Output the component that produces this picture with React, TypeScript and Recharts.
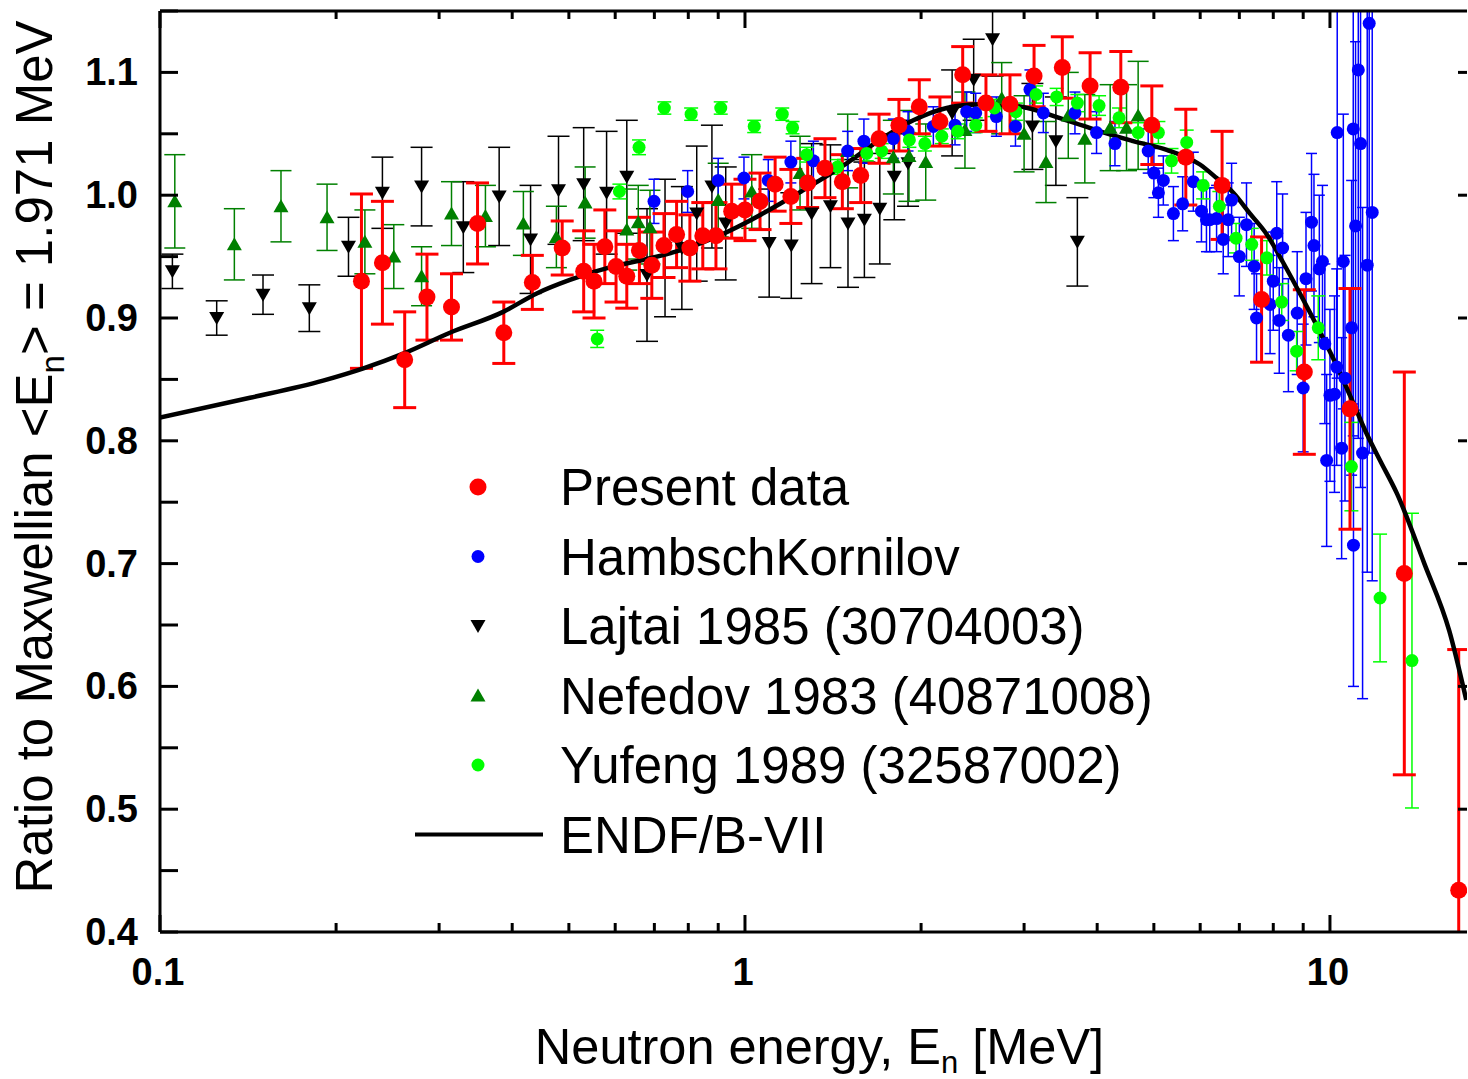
import React from "react";
import {
  ComposedChart,
  Scatter,
  Line,
  XAxis,
  YAxis,
  ErrorBar,
  Legend,
  Label,
} from "recharts";

const FONT = '"Liberation Sans", Arial, Helvetica, sans-serif';

// [energy (MeV), ratio, error]
const presentData = [
  [0.221, 0.93, 0.071], [0.24, 0.945, 0.05], [0.262, 0.866, 0.039],
  [0.286, 0.917, 0.035], [0.315, 0.909, 0.027], [0.349, 0.977, 0.033],
  [0.387, 0.888, 0.025], [0.433, 0.929, 0.022], [0.487, 0.957, 0.022],
  [0.53, 0.938, 0.033], [0.552, 0.93, 0.03], [0.576, 0.958, 0.03],
  [0.602, 0.942, 0.029], [0.628, 0.934, 0.026], [0.66, 0.955, 0.027],
  [0.693, 0.943, 0.027], [0.727, 0.959, 0.026], [0.764, 0.968, 0.027],
  [0.805, 0.957, 0.027], [0.847, 0.967, 0.027], [0.892, 0.967, 0.027],
  [0.949, 0.987, 0.022], [1.0, 0.988, 0.025], [1.061, 0.995, 0.023],
  [1.126, 1.009, 0.022], [1.198, 0.999, 0.022], [1.28, 1.01, 0.02],
  [1.37, 1.022, 0.024], [1.467, 1.011, 0.022], [1.577, 1.016, 0.022],
  [1.695, 1.046, 0.02], [1.833, 1.057, 0.021], [1.986, 1.072, 0.022],
  [2.154, 1.06, 0.02], [2.356, 1.098, 0.023], [2.582, 1.075, 0.023],
  [2.838, 1.074, 0.024], [3.12, 1.097, 0.025], [3.487, 1.104, 0.025],
  [3.89, 1.089, 0.027], [4.39, 1.088, 0.029], [4.96, 1.057, 0.032],
  [5.67, 1.031, 0.039], [6.54, 1.008, 0.044], [7.64, 0.915, 0.051],
  [9.04, 0.856, 0.067], [10.82, 0.826, 0.098], [13.4, 0.692, 0.164],
  [16.6, 0.434, 0.196],
];

const hambschData = [
  [0.699, 0.995, 0.018], [0.798, 1.003, 0.017], [0.9, 1.012, 0.018],
  [0.996, 1.014, 0.017], [1.096, 1.012, 0.017], [1.198, 1.027, 0.017],
  [1.309, 1.028, 0.016], [1.498, 1.036, 0.016], [1.597, 1.044, 0.018],
  [1.793, 1.046, 0.016], [1.9, 1.052, 0.016], [2.099, 1.056, 0.016],
  [2.286, 1.057, 0.016], [2.393, 1.068, 0.016], [2.48, 1.067, 0.016],
  [2.69, 1.064, 0.016], [2.9, 1.056, 0.016], [3.07, 1.086, 0.016],
  [3.236, 1.067, 0.016], [3.665, 1.067, 0.017], [3.99, 1.051, 0.017],
  [4.29, 1.042, 0.018], [4.89, 1.036, 0.018], [5.0, 1.018, 0.02],
  [5.09, 1.002, 0.02], [5.19, 1.012, 0.02], [5.4, 0.985, 0.022],
  [5.6, 0.993, 0.022], [5.84, 1.011, 0.024], [6.03, 0.987, 0.025],
  [6.15, 0.98, 0.026], [6.23, 0.98, 0.026], [6.4, 0.981, 0.027],
  [6.57, 0.964, 0.028], [6.7, 0.98, 0.03], [6.79, 0.996, 0.03],
  [7.0, 0.95, 0.032], [7.2, 0.976, 0.034], [7.42, 0.942, 0.035],
  [7.49, 0.9, 0.036], [7.9, 0.911, 0.04], [8.0, 0.93, 0.04],
  [8.11, 0.969, 0.042], [8.19, 0.898, 0.043], [8.3, 0.957, 0.044],
  [8.49, 0.886, 0.046], [8.79, 0.904, 0.05], [9.0, 0.843, 0.052],
  [9.1, 0.932, 0.054], [9.3, 0.978, 0.056], [9.39, 0.959, 0.058],
  [9.59, 0.94, 0.06], [9.71, 0.946, 0.062], [9.8, 0.879, 0.065],
  [9.87, 0.784, 0.07], [10.0, 0.837, 0.07], [10.18, 0.838, 0.08],
  [10.27, 0.86, 0.08], [10.29, 1.051, 0.2], [10.47, 0.794, 0.09],
  [10.54, 0.946, 0.12], [10.61, 0.851, 0.1], [10.89, 0.892, 0.12],
  [10.96, 1.054, 0.25], [10.97, 0.715, 0.115], [11.06, 0.975, 0.15],
  [11.18, 1.102, 0.3], [11.28, 1.042, 0.28], [11.37, 0.79, 0.2],
  [11.58, 0.943, 0.25], [11.67, 1.14, 0.35], [11.81, 0.986, 0.3],
];

const lajtaiData = [
  [0.105, 0.938, 0.014], [0.125, 0.9, 0.014], [0.15, 0.919, 0.016],
  [0.18, 0.908, 0.019], [0.21, 0.958, 0.024], [0.24, 1.002, 0.029],
  [0.28, 1.007, 0.032], [0.33, 0.974, 0.037], [0.38, 0.999, 0.04],
  [0.43, 0.964, 0.044], [0.48, 1.004, 0.044], [0.53, 1.009, 0.046],
  [0.58, 1.002, 0.05], [0.628, 1.015, 0.046], [0.68, 0.935, 0.054],
  [0.73, 0.957, 0.056], [0.78, 0.957, 0.05], [0.827, 0.985, 0.055],
  [0.878, 1.007, 0.05], [0.927, 0.977, 0.046], [1.1, 0.961, 0.044],
  [1.2, 0.959, 0.043], [1.3, 0.985, 0.057], [1.4, 0.991, 0.05],
  [1.5, 0.977, 0.052], [1.6, 0.98, 0.047], [1.7, 0.989, 0.045],
  [1.8, 1.015, 0.035], [1.9, 1.026, 0.035], [2.26, 1.067, 0.035],
  [2.46, 1.094, 0.033], [2.65, 1.127, 0.03], [3.1, 1.056, 0.035],
  [3.4, 1.044, 0.036], [3.7, 0.962, 0.036],
];

const nefedovData = [
  [0.106, 0.995, 0.038], [0.134, 0.96, 0.029], [0.161, 0.991, 0.029],
  [0.193, 0.982, 0.027], [0.224, 0.962, 0.026], [0.251, 0.95, 0.026],
  [0.28, 0.934, 0.024], [0.315, 0.985, 0.026], [0.36, 0.983, 0.025],
  [0.418, 0.977, 0.026], [0.476, 0.966, 0.025], [0.533, 0.994, 0.029],
  [0.628, 0.972, 0.033], [0.657, 0.978, 0.03], [0.688, 0.974, 0.03],
  [0.9, 0.996, 0.03], [1.027, 1.003, 0.03], [1.242, 1.018, 0.03],
  [1.498, 1.036, 0.03], [1.793, 1.031, 0.03], [1.907, 1.032, 0.037],
  [2.037, 1.027, 0.031], [2.377, 1.053, 0.031], [2.747, 1.079, 0.029],
  [3.0, 1.05, 0.031], [3.27, 1.027, 0.033], [3.57, 1.065, 0.035],
  [3.81, 1.046, 0.036], [4.21, 1.055, 0.035], [4.49, 1.055, 0.035],
  [4.7, 1.065, 0.044],
];

const yufengData = [
  [0.559, 0.883, 0.007], [0.61, 1.003, 0.006], [0.659, 1.039, 0.006],
  [0.728, 1.071, 0.005], [0.809, 1.066, 0.005], [0.909, 1.071, 0.005],
  [1.037, 1.056, 0.005], [1.158, 1.066, 0.005], [1.206, 1.055, 0.005],
  [1.275, 1.033, 0.006], [1.44, 1.023, 0.006], [1.615, 1.034, 0.006],
  [1.713, 1.036, 0.006], [1.91, 1.045, 0.006], [2.03, 1.042, 0.006],
  [2.17, 1.048, 0.006], [2.31, 1.052, 0.006], [2.48, 1.057, 0.006],
  [2.67, 1.071, 0.007], [2.905, 1.068, 0.007], [3.145, 1.082, 0.007],
  [3.41, 1.08, 0.007], [3.7, 1.075, 0.007], [4.03, 1.073, 0.008],
  [4.36, 1.063, 0.008], [4.7, 1.051, 0.008], [5.09, 1.051, 0.009],
  [5.36, 1.028, 0.01], [5.69, 1.043, 0.01], [6.07, 1.008, 0.011],
  [6.47, 0.991, 0.012], [6.91, 0.965, 0.012], [7.35, 0.96, 0.013],
  [7.8, 0.949, 0.014], [8.27, 0.913, 0.015], [8.77, 0.873, 0.016],
  [9.55, 0.892, 0.026], [10.88, 0.779, 0.036], [12.18, 0.672, 0.052],
  [13.81, 0.621, 0.12],
];

// ENDF/B-VII ratio curve [energy, ratio]
const endfCurve = [
  [0.1, 0.819], [0.1425, 0.835], [0.19, 0.849], [0.2227, 0.859],
  [0.2605, 0.871], [0.313, 0.888], [0.386, 0.905], [0.4405, 0.92],
  [0.502, 0.931], [0.5955, 0.942], [0.679, 0.948], [0.7743, 0.955],
  [0.883, 0.965], [1.007, 0.978], [1.148, 0.993], [1.309, 1.009],
  [1.492, 1.026], [1.7, 1.045], [1.94, 1.061], [2.212, 1.071],
  [2.52, 1.074], [2.875, 1.073], [3.547, 1.061], [4.045, 1.052],
  [4.61, 1.044], [5.26, 1.037], [5.995, 1.025], [6.4, 1.014],
  [6.835, 1.002], [7.3, 0.985], [7.8, 0.968], [8.32, 0.945],
  [8.885, 0.92], [9.49, 0.894], [10.13, 0.867], [10.82, 0.837],
  [11.55, 0.806], [12.18, 0.784], [13.02, 0.757], [14.5, 0.7],
  [16.0, 0.645], [17.1, 0.589],
];

const xMajorTicks = [0.1, 1, 10];
const xAllTicks = [
  0.1, 0.2, 0.3, 0.4, 0.5, 0.6, 0.7, 0.8, 0.9,
  1, 2, 3, 4, 5, 6, 7, 8, 9, 10,
];
const yAllTicks = [
  0.4, 0.45, 0.5, 0.55, 0.6, 0.65, 0.7, 0.75, 0.8, 0.85, 0.9, 0.95, 1.0,
  1.05, 1.1, 1.15,
];
const yLabelTicks = [0.4, 0.5, 0.6, 0.7, 0.8, 0.9, 1.0, 1.1];
const yRightTicks = [0.5, 0.6, 0.7, 0.8, 0.9, 1.0, 1.1];

const toPts = (rows: number[][]) => rows.map(([x, y, err]) => ({ x, y, err }));
const toLine = (rows: number[][]) => rows.map(([x, y]) => ({ x, y }));

const RED = "#ff0000";
const BLUE = "#0000ff";
const DKGREEN = "#008000";
const LTGREEN = "#00ff00";

const dot = (r: number, fill: string) => (p: any) =>
  <circle cx={p.cx} cy={p.cy} r={r} fill={fill} />;

const triUp = (fill: string) => (p: any) => (
  <polygon
    points={`${p.cx},${p.cy - 7} ${p.cx - 7.5},${p.cy + 6} ${p.cx + 7.5},${p.cy + 6}`}
    fill={fill}
  />
);
const triDown = (fill: string) => (p: any) => (
  <polygon
    points={`${p.cx - 7.5},${p.cy - 6} ${p.cx + 7.5},${p.cy - 6} ${p.cx},${p.cy + 7}`}
    fill={fill}
  />
);

const BottomTick = (p: any) => {
  const v = p.payload.value;
  const major = xMajorTicks.includes(v);
  return (
    <g>
      <line x1={p.x} x2={p.x} y1={p.y} y2={p.y - (major ? 17 : 9)} stroke="#000" strokeWidth={3} />
      {major && (
        <text x={p.x - 2} y={p.y + 53} textAnchor="middle" fontFamily={FONT} fontWeight="bold" fontSize={38} fill="#000">
          {String(v)}
        </text>
      )}
    </g>
  );
};

const TopTick = (p: any) => {
  const major = xMajorTicks.includes(p.payload.value);
  return <line x1={p.x} x2={p.x} y1={p.y} y2={p.y + (major ? 17 : 8)} stroke="#000" strokeWidth={3} />;
};

const LeftTick = (p: any) => {
  const v = p.payload.value;
  const lab = yLabelTicks.includes(v);
  return (
    <g>
      <line x1={p.x} x2={p.x + 18} y1={p.y} y2={p.y} stroke="#000" strokeWidth={3} />
      {lab && (
        <text x={p.x - 22} y={p.y + 13} textAnchor="end" fontFamily={FONT} fontWeight="bold" fontSize={38} fill="#000">
          {v.toFixed(1)}
        </text>
      )}
    </g>
  );
};

const RightTick = (p: any) =>
  <line x1={p.x} x2={p.x - 9} y1={p.y} y2={p.y} stroke="#000" strokeWidth={3} />;

const XTitle = (props: any) => {
  const vb = props.viewBox;
  return (
    <text x={vb.x + vb.width / 2 + 6} y={vb.y + 132} textAnchor="middle" fontFamily={FONT} fontSize={50.5} fill="#000">
      Neutron energy, E<tspan dy={9} fontSize={31}>n</tspan>
      <tspan dy={-9}> [MeV]</tspan>
    </text>
  );
};

const YTitle = () => {
  const cx = 52;
  const cy = 457;
  return (
    <text x={cx} y={cy} transform={`rotate(-90, ${cx}, ${cy})`} textAnchor="middle" fontFamily={FONT} fontSize={51} fill="#000">
      Ratio to Maxwellian &lt;E<tspan dy={12} fontSize={33}>n</tspan>
      <tspan dy={-12}>&gt; = 1.971 MeV</tspan>
    </text>
  );
};

const legendRows = [
  { name: "Present data", kind: "red" },
  { name: "HambschKornilov", kind: "blue" },
  { name: "Lajtai 1985 (30704003)", kind: "down" },
  { name: "Nefedov 1983 (40871008)", kind: "up" },
  { name: "Yufeng 1989 (32587002)", kind: "lt" },
  { name: "ENDF/B-VII", kind: "line" },
];

const LegendBox = () => {
  const mx = 78;
  return (
    <svg width={800} height={430}>
      {legendRows.map((r, i) => {
        const cy = 37 + i * 69.5;
        let m = null;
        if (r.kind === "red") m = <circle cx={mx} cy={cy} r={8.5} fill={RED} />;
        if (r.kind === "blue") m = <circle cx={mx} cy={cy} r={6.5} fill={BLUE} />;
        if (r.kind === "lt") m = <circle cx={mx} cy={cy} r={6.5} fill={LTGREEN} />;
        if (r.kind === "down") m = triDown("#000")({ cx: mx, cy });
        if (r.kind === "up") m = triUp(DKGREEN)({ cx: mx, cy });
        if (r.kind === "line") m = <line x1={15} x2={143} y1={cy} y2={cy} stroke="#000" strokeWidth={4} />;
        return (
          <g key={r.name}>
            {m}
            <text x={160} y={cy + 18} fontFamily={FONT} fontSize={51} fill="#000">{r.name}</text>
          </g>
        );
      })}
    </svg>
  );
};

export default function App() {
  const xDomain = [0.1, 17.15];
  const yDomain = [0.4, 1.15];
  return (
    <div style={{ position: "absolute", left: 0, top: 0, width: 1468, height: 1079, overflow: "hidden", background: "#fff" }}>
      <style>{`.recharts-errorBars { clip-path: url(#plotAreaClip); }`}</style>
      <svg width={0} height={0} style={{ position: "absolute" }}>
        <defs>
          <clipPath id="plotAreaClip" clipPathUnits="userSpaceOnUse">
            <rect x={160} y={11} width={1307} height={921} />
          </clipPath>
        </defs>
      </svg>
      <ComposedChart width={1468} height={1079} margin={{ top: 10, right: 0, bottom: 87, left: 0 }}>
        <XAxis
          xAxisId="b" dataKey="x" type="number" scale="log" domain={xDomain} allowDataOverflow
          ticks={xAllTicks} interval={0} height={60} tickSize={0} tickMargin={0}
          tick={(p: any) => <BottomTick {...p} />} tickLine={false}
          axisLine={{ stroke: "#000", strokeWidth: 3 }}
        >
          <Label content={XTitle} />
        </XAxis>
        <XAxis
          xAxisId="t" orientation="top" dataKey="x" type="number" scale="log" domain={xDomain} allowDataOverflow
          ticks={xAllTicks} interval={0} height={1} tickSize={0} tickMargin={0}
          tick={(p: any) => <TopTick {...p} />} tickLine={false}
          axisLine={{ stroke: "#000", strokeWidth: 3 }}
        />
        <YAxis
          yAxisId="l" dataKey="y" type="number" domain={yDomain} allowDataOverflow
          ticks={yAllTicks} interval={0} width={160} tickSize={0} tickMargin={0}
          tick={(p: any) => <LeftTick {...p} />} tickLine={false}
          axisLine={{ stroke: "#000", strokeWidth: 3 }}
        >
          <Label content={YTitle} />
        </YAxis>
        <YAxis
          yAxisId="r" orientation="right" type="number" domain={yDomain} allowDataOverflow
          ticks={yRightTicks} interval={0} width={1} tickSize={0} tickMargin={0}
          tick={(p: any) => <RightTick {...p} />} tickLine={false} axisLine={false}
        />

        <Scatter name="Lajtai 1985 (30704003)" data={toPts(lajtaiData)} xAxisId="b" yAxisId="l"
          shape={triDown("#000")} isAnimationActive={false}>
          <ErrorBar dataKey="err" direction="y" width={11} stroke="#000" strokeWidth={1.5} />
        </Scatter>
        <Scatter name="Nefedov 1983 (40871008)" data={toPts(nefedovData)} xAxisId="b" yAxisId="l"
          shape={triUp(DKGREEN)} isAnimationActive={false}>
          <ErrorBar dataKey="err" direction="y" width={10.5} stroke={DKGREEN} strokeWidth={1.5} />
        </Scatter>
        <Scatter name="HambschKornilov" data={toPts(hambschData)} xAxisId="b" yAxisId="l"
          shape={dot(6.5, BLUE)} isAnimationActive={false}>
          <ErrorBar dataKey="err" direction="y" width={5.5} stroke={BLUE} strokeWidth={1.5} />
        </Scatter>
        <Scatter name="Yufeng 1989 (32587002)" data={toPts(yufengData)} xAxisId="b" yAxisId="l"
          shape={dot(6.5, LTGREEN)} isAnimationActive={false}>
          <ErrorBar dataKey="err" direction="y" width={7} stroke={LTGREEN} strokeWidth={1.5} />
        </Scatter>
        <Scatter name="Present data" data={toPts(presentData)} xAxisId="b" yAxisId="l"
          shape={dot(8.5, RED)} isAnimationActive={false}>
          <ErrorBar dataKey="err" direction="y" width={11.5} stroke={RED} strokeWidth={3} />
        </Scatter>
        <Line name="ENDF/B-VII" data={toLine(endfCurve)} dataKey="y" xAxisId="b" yAxisId="l"
          type="monotone" stroke="#000" strokeWidth={4.5} dot={false} isAnimationActive={false} />

        <Legend
          layout="vertical" align="center" verticalAlign="middle"
          wrapperStyle={{ left: 400, top: 450, width: 800, height: 430 }}
          content={() => <LegendBox />}
        />
      </ComposedChart>
    </div>
  );
}
